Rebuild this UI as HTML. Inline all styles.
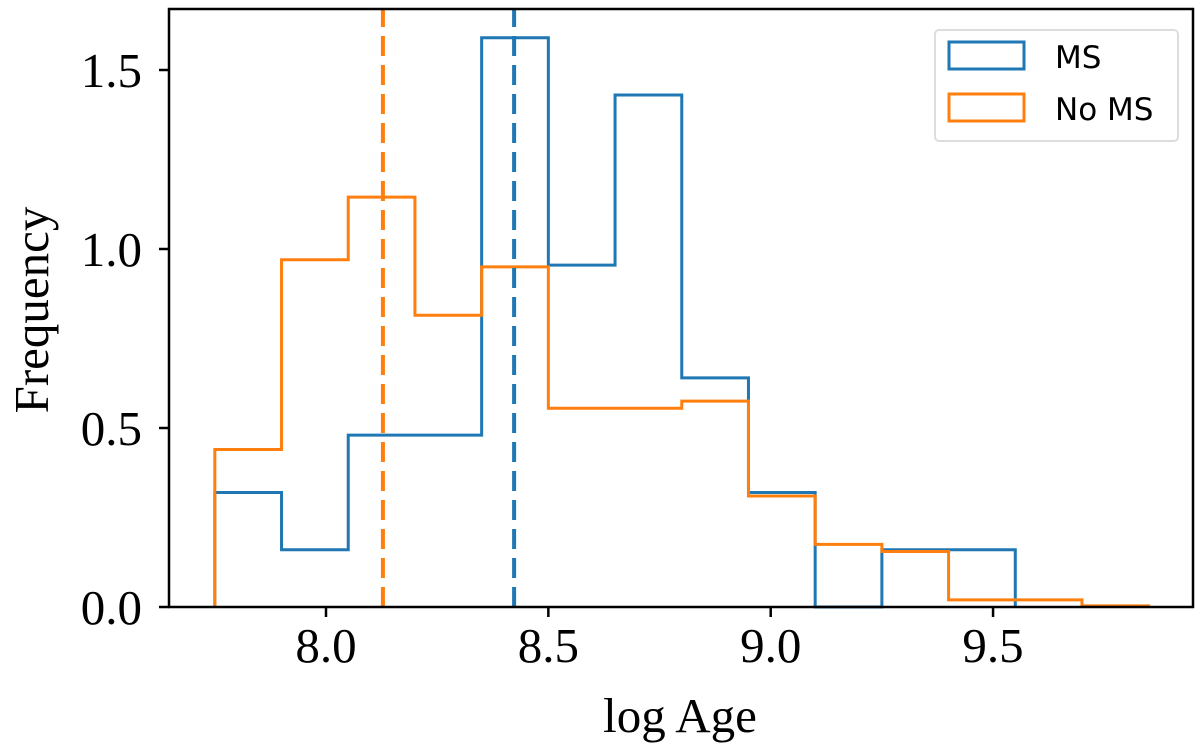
<!DOCTYPE html>
<html><head><meta charset="utf-8"><style>
html,body{margin:0;padding:0;background:#fff;}
svg{display:block;}
</style></head><body>
<svg id="chart" width="1200" height="752" xmlns="http://www.w3.org/2000/svg">
<g id="plot"></g>
</svg>
<script>
const binStart = 7.75;
const binWidth = 0.15;
const msValues = [0.32, 0.16, 0.48, 0.48, 1.59, 0.955, 1.43, 0.64, 0.32, 0, 0.16, 0.16];
const noMsValues = [0.44, 0.97, 1.145, 0.815, 0.95, 0.555, 0.555, 0.575, 0.31, 0.175, 0.155, 0.02, 0.02, 0.003];
const msMedian = 8.423;
const noMsMedian = 8.128;
const xTicks = [8.0, 8.5, 9.0, 9.5];
const xTickLabels = ["8.0", "8.5", "9.0", "9.5"];
const yTicks = [0, 0.5, 1.0, 1.5];
const yTickLabels = ["0.0", "0.5", "1.0", "1.5"];

const NS = "http://www.w3.org/2000/svg";
const L = 169, R = 1193, T = 9, B = 607;
function xs(v){ return 326 + (v - 8) * 444.7; }
function ys(v){ return 607 - v * 358; }
const g = document.getElementById('plot');
function mk(tag, attrs, parent){
  const e = document.createElementNS(NS, tag);
  for (const k in attrs) e.setAttribute(k, attrs[k]);
  (parent || g).appendChild(e);
  return e;
}
function stepPath(vals){
  let d = 'M' + xs(binStart) + ',' + ys(0);
  vals.forEach((v, i) => {
    const x0 = xs(binStart + i * binWidth), x1 = xs(binStart + (i + 1) * binWidth);
    d += ' L' + x0 + ',' + ys(v) + ' L' + x1 + ',' + ys(v);
  });
  d += ' L' + xs(binStart + vals.length * binWidth) + ',' + ys(0);
  return d;
}
const blue = '#1f77b4', orange = '#ff7f0e';
const p1 = mk('path', {d: stepPath(msValues), fill: 'none', stroke: blue, 'stroke-width': 3});


const p2 = mk('path', {d: stepPath(noMsValues), fill: 'none', stroke: orange, 'stroke-width': 3});


const m1 = mk('line', {x1: xs(noMsMedian), x2: xs(noMsMedian), y1: B, y2: T, stroke: orange, 'stroke-width': 4, 'stroke-dasharray': '20,9'});


const m2 = mk('line', {x1: xs(msMedian), x2: xs(msMedian), y1: B, y2: T, stroke: blue, 'stroke-width': 4, 'stroke-dasharray': '20,9'});


const frame = mk('rect', {x: L, y: T, width: R - L, height: B - T, fill: 'none', stroke: '#000', 'stroke-width': 2.5});


const serif = '"Liberation Serif", serif';
xTicks.forEach((v, i) => {
  const t = mk('line', {x1: xs(v), x2: xs(v), y1: B, y2: B + 10, stroke: '#000', 'stroke-width': 2.5});
  
  
  const tx = mk('text', {x: xs(v), y: 662, 'text-anchor': 'middle', 'font-family': serif, 'font-size': 49});
  tx.textContent = xTickLabels[i];
  
  
});
yTicks.forEach((v, i) => {
  const t = mk('line', {x1: L - 10, x2: L, y1: ys(v), y2: ys(v), stroke: '#000', 'stroke-width': 2.5});
  
  
  const tx = mk('text', {x: 142, y: ys(v) + 17, 'text-anchor': 'end', 'font-family': serif, 'font-size': 49});
  tx.textContent = yTickLabels[i];
  
  
});
const xl = mk('text', {x: 680, y: 732, 'text-anchor': 'middle', 'font-family': serif, 'font-size': 49});
xl.textContent = 'log Age';


const yl = mk('text', {x: 0, y: 0, 'text-anchor': 'middle', 'font-family': serif, 'font-size': 49, transform: 'translate(48,310) rotate(-90)'});
yl.textContent = 'Frequency';


const lg = mk('g', {});


mk('rect', {x: 935, y: 30, width: 243, height: 111, rx: 4, fill: '#fff', stroke: '#ddd', 'stroke-width': 2}, lg);
const entries = [['MS', blue], ['No MS', orange]];
entries.forEach((e, i) => {
  const y = 42 + i * 52;
  const r = mk('rect', {x: 949, y: y, width: 75, height: 27, fill: 'none', stroke: e[1], 'stroke-width': 3}, lg);
  
  
  const t = mk('text', {x: 1055, y: y + 26, 'font-family': '"DejaVu Sans", "Liberation Sans", sans-serif', 'font-size': 31}, lg);
  t.textContent = e[0];
  
  
});
</script>
</body></html>
